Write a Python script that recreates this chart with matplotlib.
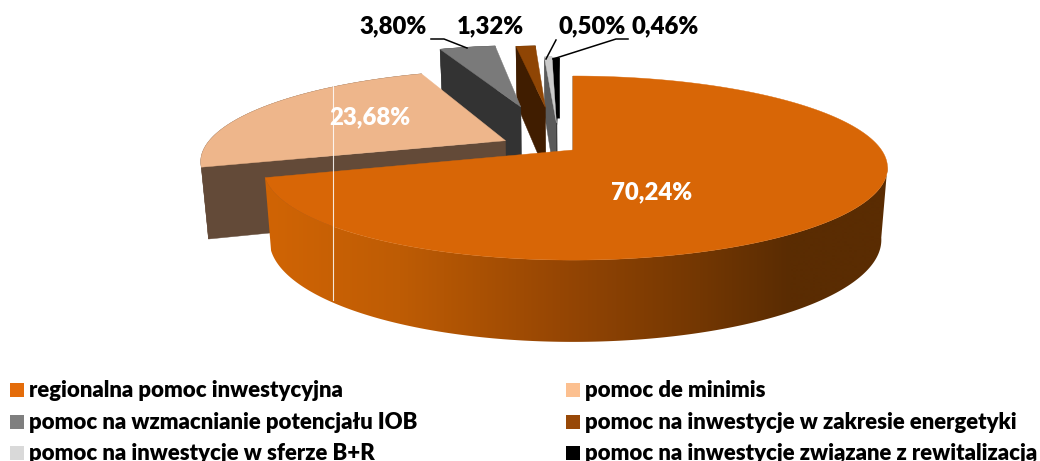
import numpy as np
import matplotlib.pyplot as plt
from matplotlib.patches import Rectangle, Polygon

plt.rcParams['font.family'] = ['Lato', 'DejaVu Sans']

NAMES = [
    'regionalna pomoc inwestycyjna',
    'pomoc de minimis',
    'pomoc na wzmacnianie potencjału IOB',
    'pomoc na inwestycje w zakresie energetyki',
    'pomoc na inwestycje w sferze B+R',
    'pomoc na inwestycje związane z rewitalizacją',
]
VALUES = [70.24, 23.68, 3.80, 1.32, 0.50, 0.46]

# styles
TOP_COLORS = ['#d86606', '#eeb68b', '#7a7a7a', '#8f4504', '#cbcbcb', '#000000']
WALL_COLORS = ['#5a2c02', '#634a38', '#333333', '#401d00', '#5a5a5a', '#000000']
LEGEND_COLORS = ['#e46c0a', '#fcc090', '#7f7f7f', '#984807', '#d9d9d9', '#000000']
EXPLODE = [0, 0.25, 0.57, 0.54, 0.33, 0.31]
TURN = [0, 0, 4.3, 4.8, 7.5, 9.5]

# fake perspective of the pie plane, in pixels
CX, CY, A, B, K, SKEW = 573, 150, 306, 88.5, 0.196, 0.008
DEPTH, A_LOW, B_LOW = 70, 300, 98


def project(X, Y, low=False):
    """Pie plane to screen, low=True is the underside."""
    s = 1 / (1 + K * Y)
    w = X * (1 + SKEW * X) * s
    if low:
        return CX + A_LOW * w, CY + DEPTH - B_LOW * Y * s
    return CX + A * w, CY - B * Y * s


def wall_color(x):
    """Horizontal shading of the big slice rim."""
    r = np.interp(x, [270, 400, 560, 700, 790], [208, 190, 150, 115, 90])
    g = np.interp(x, [270, 400, 560, 700, 790], [100, 92, 70, 55, 44])
    b = np.interp(x, [270, 790], [5, 2])
    return np.dstack([r, g, b]) / 255


def draw_slice(ax, i, t0, t1):
    mid = np.radians((t0 + t1) / 2 - TURN[i])
    X0, Y0 = EXPLODE[i] * np.sin(mid), EXPLODE[i] * np.cos(mid)
    t = np.radians(np.linspace(t0, t1, max(int(t1 - t0) * 2, 8)))
    X, Y = X0 + np.sin(t), Y0 + np.cos(t)

    # cut side, the one facing the viewer
    xa, ya = project(np.array([X0, X[0]]), np.array([Y0, Y[0]]))
    xb, yb = project(np.array([X0, X[0]]), np.array([Y0, Y[0]]), low=True)
    ax.fill([xa[0], xa[1], xb[1], xb[0]], [ya[0], ya[1], yb[1], yb[0]],
            color=WALL_COLORS[i], lw=0.3)

    # rim
    xt, yt = project(X, Y)
    xl, yl = project(X, Y, low=True)
    if i == 0:
        # start at the right silhouette, the rim behind it is hidden
        front = np.degrees(t) > 100
        xs = np.arange(int(xt.min()) - 2, int(xt.max()) + 3)
        im = ax.imshow(wall_color(xs), extent=(xs[0], xs[-1], 400, 0), aspect='auto',
                       interpolation='bilinear', zorder=1)
        clip = Polygon(np.c_[np.r_[xt[front], xl[front][::-1]], np.r_[yt[front], yl[front][::-1]]],
                       transform=ax.transData)
        im.set_clip_path(clip)
        ax.set_xlim(0, 1040)
        ax.set_ylim(461, 0)
    else:
        ax.fill(np.r_[xt, xl[::-1]], np.r_[yt, yl[::-1]], color=WALL_COLORS[i], lw=0.3)

    # top face
    x0, y0 = project(X0, Y0)
    ax.fill(np.r_[x0, xt], np.r_[y0, yt], color=TOP_COLORS[i], lw=0.3, zorder=2 if i == 0 else 1)


def main():
    fig = plt.figure(figsize=(10.4, 4.61), dpi=100)
    ax = fig.add_axes([0, 0, 1, 1])
    ax.set_xlim(0, 1040)
    ax.set_ylim(461, 0)
    ax.axis('off')

    ends = np.cumsum(VALUES) / np.sum(VALUES) * 360
    starts = np.r_[0, ends[:-1]]
    # back slices first, the big one covers the rest
    for i in range(len(VALUES) - 1, -1, -1):
        draw_slice(ax, i, starts[i], ends[i])

    ax.plot([333, 333], [85, 300], color='white', lw=0.8, alpha=0.85, zorder=3)

    # data labels
    label_pos = [(652, 192), (370, 117), (393, 26), (490, 26), (592, 26), (665, 26)]
    label_col = ['white', 'white', 'black', 'black', 'black', 'black']
    for v, p, c in zip(VALUES, label_pos, label_col):
        ax.text(p[0], p[1], f'{v:.2f}%'.replace('.', ','), color=c, fontsize=17.2,
                fontweight='heavy', ha='center', va='center', zorder=4)

    ax.plot([431, 444, 467], [39, 39, 48], color='black', lw=1.1, zorder=4)
    ax.plot([556, 546], [40, 59], color='black', lw=1.1, zorder=4)
    ax.plot([628, 616, 553], [39, 39, 59], color='black', lw=1.1, zorder=4)

    # legend, third row is cut by the bottom edge like the original
    col_x = [10, 566]
    row_y = [390, 422, 453]
    for i, name in enumerate(NAMES):
        x, y = col_x[i % 2], row_y[i // 2]
        ax.add_patch(Rectangle((x, y - 7), 14, 14, color=LEGEND_COLORS[i], lw=0))
        ax.text(x + 19, y, name, fontsize=15.9, fontweight='heavy', color='black',
                ha='left', va='center')

    fig.savefig('out.png', dpi=100)
    plt.close(fig)


if __name__ == '__main__':
    main()
